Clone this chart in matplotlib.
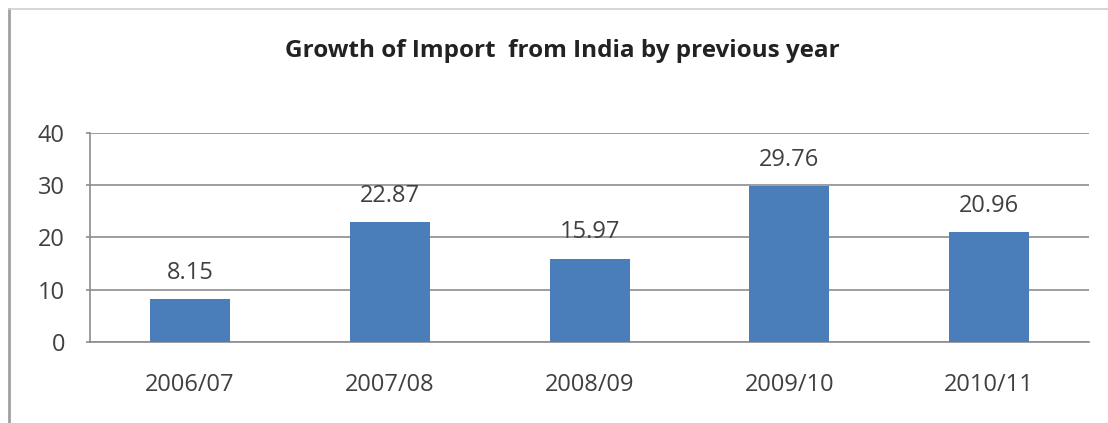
import matplotlib.pyplot as plt
from matplotlib.lines import Line2D

years = ['2006/07', '2007/08', '2008/09', '2009/10', '2010/11']
growth = [8.15, 22.87, 15.97, 29.76, 20.96]
yticks = [0, 10, 20, 30, 40]

plt.rcParams['font.family'] = ['Open Sans', 'DejaVu Sans']

fig = plt.figure(figsize=(11.08, 4.23), dpi=100)
ax = fig.add_axes([0.0812, 0.1915, 0.9018, 0.4941])

x = range(len(years))
bars = ax.bar(x, growth, width=0.4, color='#4A7EBB', zorder=3)
for b, v in zip(bars, growth):
    ax.text(b.get_x() + b.get_width() / 2, v + 2.8, '%.2f' % v,
            ha='center', va='bottom', fontsize=17, color='#404040')

ax.set_xlim(-0.5, 4.5)
ax.set_ylim(0, 40)
ax.set_yticks(yticks)
ax.set_xticks(list(x))
ax.set_xticklabels(years)
ax.tick_params(axis='both', labelsize=17, colors='#404040')
ax.tick_params(axis='x', length=0, pad=22)
ax.tick_params(axis='y', length=3, width=1.2, color='#8C8C8C', pad=15)
ax.grid(axis='y', color='#8C8C8C', linewidth=1.2, zorder=0)
for s in ['top', 'right']:
    ax.spines[s].set_visible(False)
for s in ['left', 'bottom']:
    ax.spines[s].set_color('#8C8C8C')
    ax.spines[s].set_linewidth(1.2)

fig.text(0.508, 0.88, 'Growth of Import  from India by previous year',
         ha='center', va='center', fontsize=17.5, fontweight='bold', color='#222222')

# outer chart frame (left and top edges)
fig.add_artist(Line2D([0.0085, 0.0085], [0, 0.978], transform=fig.transFigure,
                      color='#A0A0A0', linewidth=2))
fig.add_artist(Line2D([0.0085, 1.0], [0.978, 0.978], transform=fig.transFigure,
                      color='#D0D0D0', linewidth=1.2))

fig.savefig('out.png', dpi=100, facecolor='white')
